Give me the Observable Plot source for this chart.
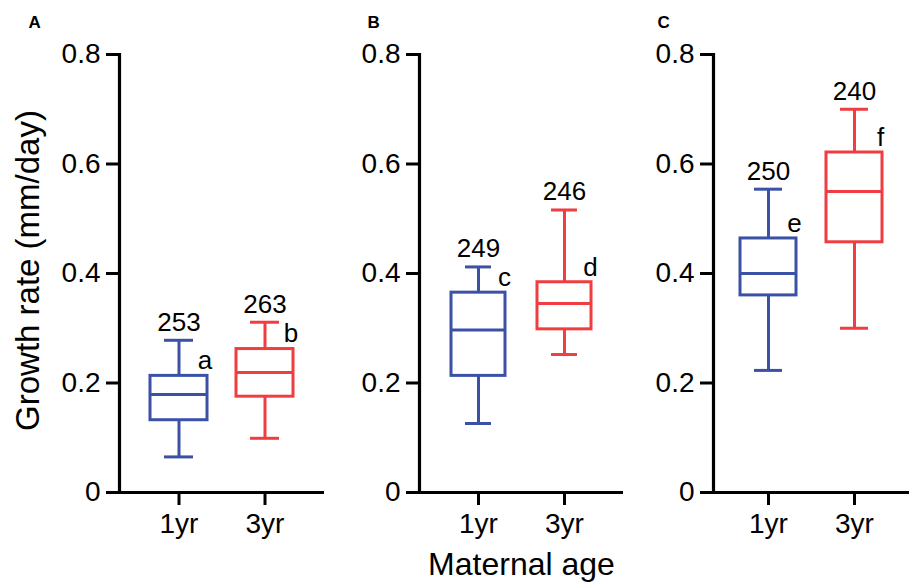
<!DOCTYPE html>
<html>
<head>
<meta charset="utf-8">
<script src="https://cdn.jsdelivr.net/npm/d3@7"></script>
<script src="https://cdn.jsdelivr.net/npm/@observablehq/plot@0.6"></script>
<style>
  html, body { margin: 0; padding: 0; background: white; }
  #chart { position: relative; width: 909px; height: 583px; overflow: hidden; font-family: "Liberation Sans", Arial, sans-serif; }
  #chart svg { position: absolute; top: 0; }
</style>
</head>
<body>
<div id="chart"></div>
<script>
// ---- data ----
const panelIds = ["A", "B", "C"];
const ages = ["1yr", "3yr"];
// values ordered: A-1yr, A-3yr, B-1yr, B-3yr, C-1yr, C-3yr
const rowPanel   = ["A", "A", "B", "B", "C", "C"];
const rowAge     = ["1yr", "3yr", "1yr", "3yr", "1yr", "3yr"];
const whiskerLow = [0.065, 0.099, 0.126, 0.252, 0.223, 0.300];
const q1         = [0.132, 0.175, 0.213, 0.298, 0.360, 0.457];
const median     = [0.179, 0.219, 0.297, 0.345, 0.400, 0.550];
const q3         = [0.213, 0.262, 0.365, 0.384, 0.464, 0.621];
const whiskerHigh= [0.278, 0.311, 0.412, 0.516, 0.554, 0.700];
const counts     = [253, 263, 249, 246, 250, 240];
const letters    = ["a", "b", "c", "d", "e", "f"];
const yTicks     = [0, 0.2, 0.4, 0.6, 0.8];
const yLabel = "Growth rate (mm/day)";
const xLabel = "Maternal age";

const blue = "#3a51a6";
const red = "#ef3d40";
const font = "'Liberation Sans', Arial, Helvetica, sans-serif";

const rows = rowPanel.map((p, i) => ({
  panel: p, age: rowAge[i], lo: whiskerLow[i], q1: q1[i], med: median[i],
  q3: q3[i], hi: whiskerHigh[i], n: counts[i], letter: letters[i]
}));

const layout = {
  A: {left: 0,   width: 330, marginLeft: 119, marginRight: 6, paddingOuter: 0.36, paddingInner: 0.34, letterDx: -91},
  B: {left: 330, width: 300, marginLeft: 89,  marginRight: 7, paddingOuter: 0.37, paddingInner: 0.37, letterDx: -52},
  C: {left: 630, width: 279, marginLeft: 83,  marginRight: 0, paddingOuter: 0.30, paddingInner: 0.345, letterDx: -56}
};

function panel(id) {
  const L = layout[id];
  const data = rows.filter(d => d.panel === id);
  const marks = [
    Plot.ruleX(data, {x: "age", y1: "lo", y2: "hi", stroke: "age", strokeWidth: 3}),
    Plot.barY(data, {x: "age", y1: "q1", y2: "q3", fill: "white", stroke: "age", strokeWidth: 3}),
    Plot.tickY(data, {x: "age", y: "med", stroke: "age", strokeWidth: 3}),
    Plot.tickY(data, {x: "age", y: "lo", stroke: "age", strokeWidth: 3, insetLeft: 14, insetRight: 14}),
    Plot.tickY(data, {x: "age", y: "hi", stroke: "age", strokeWidth: 3, insetLeft: 14, insetRight: 14}),
    Plot.text(data, {x: "age", y: "hi", text: d => String(d.n), dy: -18, fontSize: 26, fill: "black"}),
    Plot.text(data, {x: "age", y: "q3", text: "letter", dx: 26, dy: -15, fontSize: 26, fill: "black"}),
    Plot.axisY({ticks: yTicks, tickFormat: d => d === 0 ? "0" : d.toFixed(1), tickSize: 13, tickPadding: 6,
                fontSize: 28, strokeWidth: 3, label: null}),
    Plot.axisX({tickSize: 13, tickPadding: 8, fontSize: 28, strokeWidth: 3, label: null}),
    Plot.ruleY([0], {strokeWidth: 3.2}),
    Plot.frame({anchor: "left", strokeWidth: 3.2}),
    Plot.text([id], {frameAnchor: "top-left", dx: L.letterDx, dy: -32, fontSize: 17, fontWeight: "bold", textAnchor: "start", lineAnchor: "middle"})
  ];
  if (id === "A") {
    marks.push(Plot.text([yLabel], {frameAnchor: "left", rotate: -90, textAnchor: "middle", lineAnchor: "middle", dx: -91, dy: -3, fontSize: 33, fill: "black"}));
  }
  if (id === "B") {
    marks.push(Plot.text([xLabel], {frameAnchor: "bottom", textAnchor: "middle", lineAnchor: "middle", dy: 72, fontSize: 32, fill: "black"}));
  }
  const svg = Plot.plot({
    width: L.width,
    height: 583,
    marginTop: 54,
    marginBottom: 91,
    marginLeft: L.marginLeft,
    marginRight: L.marginRight,
    style: {fontFamily: font, background: "transparent", overflow: "visible", color: "black"},
    x: {domain: ages, paddingInner: L.paddingInner, paddingOuter: L.paddingOuter, label: null},
    y: {domain: [0, 0.8], label: null},
    color: {domain: ages, range: [blue, red]},
    marks
  });
  svg.style.left = L.left + "px";
  return svg;
}

const chart = document.getElementById("chart");
for (const id of panelIds) chart.appendChild(panel(id));
</script>
</body>
</html>
